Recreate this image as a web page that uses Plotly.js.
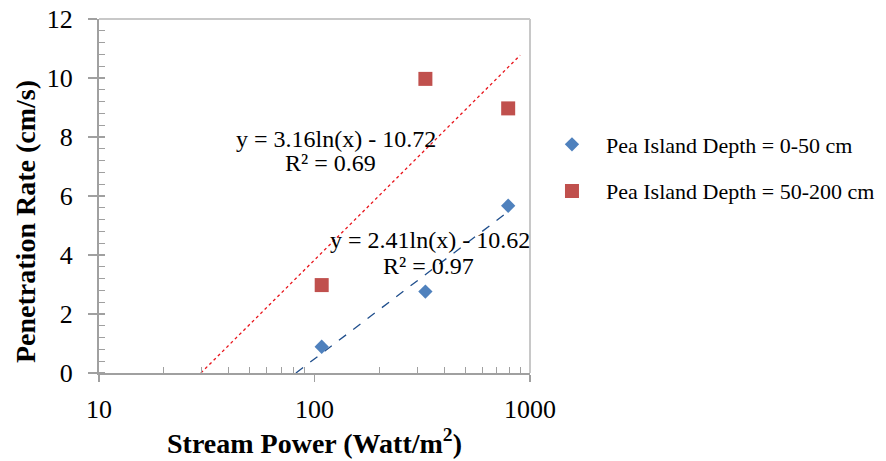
<!DOCTYPE html>
<html>
<head>
<meta charset="utf-8">
<script src="https://cdn.plot.ly/plotly-3.0.1.min.js"></script>
<style>html,body{margin:0;padding:0;background:#fff;}#chart{width:886px;height:461px;}</style>
</head>
<body>
<div id="chart"></div>
<script>
// Data
const seriesNames = ['Pea Island Depth = 0-50 cm', 'Pea Island Depth = 50-200 cm'];
const shallowX = [108, 327, 792];
const shallowY = [0.89, 2.76, 5.67];
const deepX = [108, 327, 792];
const deepY = [2.98, 9.97, 8.97];
// Logarithmic trendline end points (straight on a log x axis)
const shallowTrendX = [82, 792];
const shallowTrendY = [0, 5.47];
const deepTrendX = [29.7, 900];
const deepTrendY = [0, 10.77];
const trendEquations = ['y = 3.16ln(x) - 10.72', 'y = 2.41ln(x) - 10.62'];
const trendR2 = ['R² = 0.69', 'R² = 0.97'];
const xTitle = '<b>Stream Power (Watt/m<sup>2</sup>)</b>';
const yTitle = '<b>Penetration Rate (cm/s)</b>';
const xTickVals = [10, 100, 1000];
const xTickText = ['10', '100', '1000'];
const xMinorVals = [20,30,40,50,60,70,80,90,200,300,400,500,600,700,800,900];

const serif = 'Liberation Serif';

const traces = [
  {x: deepTrendX, y: deepTrendY, mode: 'lines', showlegend: false, hoverinfo: 'skip',
   line: {color: '#E8141B', width: 1.3, dash: 'dot'}},
  {x: shallowTrendX, y: shallowTrendY, mode: 'lines', showlegend: false, hoverinfo: 'skip',
   line: {color: '#1F4E8C', width: 1.3, dash: 'dash'}},
  {x: shallowX, y: shallowY, mode: 'markers', name: seriesNames[0], legendgroup: 'a',
   marker: {symbol: 'diamond', size: 11, color: '#4F81BD'}},
  {x: deepX, y: deepY, mode: 'markers', name: seriesNames[1], legendgroup: 'b',
   marker: {symbol: 'square', size: 14, color: '#C0504D'}}
];

const annFont = {family: serif, size: 24, color: '#000'};
function label(text, x, y) {
  return {xref: 'paper', yref: 'paper', x: x, y: y, xanchor: 'center', yanchor: 'middle',
          text: text, showarrow: false, font: annFont};
}

const layout = {
  width: 886, height: 461,
  margin: {l: 99, r: 356, t: 19, b: 88},
  paper_bgcolor: '#fff', plot_bgcolor: '#fff',
  font: {family: serif, size: 26, color: '#000'},
  showlegend: true,
  legend: {xref: 'container', yref: 'container', x: 0.6072, xanchor: 'left', y: 0.6356, yanchor: 'middle',
           font: {family: serif, size: 22, color: '#000'},
           itemwidth: 58, traceorder: 'grouped', tracegroupgap: 15,
           borderwidth: 0, bgcolor: 'rgba(0,0,0,0)'},
  xaxis: {
    type: 'log', range: [1, 3],
    tickmode: 'array', tickvals: xTickVals, ticktext: xTickText,
    ticks: 'outside', ticklen: 7, tickwidth: 1.5, tickcolor: '#A0A0A0',
    minor: {tickmode: 'array', tickvals: xMinorVals, ticks: 'inside', ticklen: 6, tickcolor: '#A0A0A0', tickwidth: 1.2},
    showgrid: false, zeroline: false,
    showline: true, linecolor: '#A0A0A0', linewidth: 2,
    tickfont: {family: serif, size: 26, color: '#000'},
    ticklabelstandoff: 5,
    title: {text: xTitle, font: {family: serif, size: 28, color: '#000'}, standoff: 2}
  },
  yaxis: {
    range: [0, 12], dtick: 2, tick0: 0,
    ticks: 'outside', ticklen: 9, tickwidth: 1.5, tickcolor: '#A0A0A0',
    minor: {dtick: 0.4, ticks: 'inside', ticklen: 6, tickcolor: '#A0A0A0', tickwidth: 1.2},
    showgrid: false, zeroline: false,
    showline: true, linecolor: '#A0A0A0', linewidth: 2,
    tickfont: {family: serif, size: 26, color: '#000'},
    ticklabelstandoff: 10
  },
  shapes: [
    {type: 'line', xref: 'paper', yref: 'paper', x0: 0, x1: 1, y0: 1, y1: 1, line: {color: '#C8C8C8', width: 2}},
    {type: 'line', xref: 'paper', yref: 'paper', x0: 1, x1: 1, y0: 0, y1: 1, line: {color: '#C8C8C8', width: 2}}
  ],
  annotations: [
    label(trendEquations[0], 0.550, 0.661),
    label(trendR2[0], 0.536, 0.593),
    label(trendEquations[1], 0.767, 0.376),
    label(trendR2[1], 0.764, 0.302),
    {xref: 'paper', yref: 'paper', x: -0.172, y: 0.429, xanchor: 'center', yanchor: 'middle',
     textangle: -90, text: yTitle, showarrow: false, font: {family: serif, size: 28, color: '#000'}}
  ]
};

Plotly.newPlot('chart', traces, layout, {displayModeBar: false, staticPlot: true});
</script>
</body>
</html>
